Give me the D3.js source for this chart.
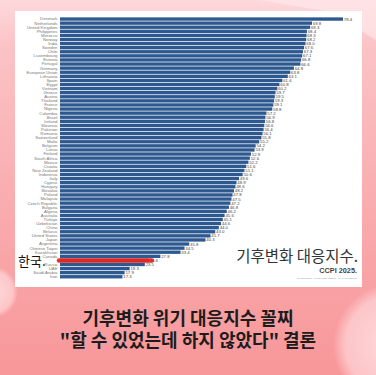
<!DOCTYPE html>
<html><head><meta charset="utf-8">
<script src="https://cdn.jsdelivr.net/npm/d3@7"></script>
<style>html,body{margin:0;padding:0;background:#fff;}svg{display:block;}</style>
</head><body>
<script>
const countries = ["Denmark","Netherlands","United Kingdom","Philippines","Morocco","Norway","India","Sweden","Chile","Luxembourg","Estonia","Portugal","Germany","European Union","Lithuania","Spain","Egypt","Vietnam","Greece","Austria","Thailand","France","Nigeria","Colombia","Brazil","Ireland","Slovenia","Pakistan","Romania","Switzerland","Malta","Belgium","Latvia","Finland","South Africa","Mexico","Croatia","New Zealand","Indonesia","Italy","Cyprus","Hungary","Slovakia","Poland","Malaysia","Czech Republic","Bulgaria","Algeria","Australia","Türkiye","Uzbekistan","China","Belarus","United States","Japan","Argentina","Chinese Taipei","Kazakhstan","Canada","Korea","Russia","UAE","Saudi Arabia","Iran"];
const scores = [78.4,69.8,69.3,68.4,68.3,68.2,68.0,67.6,67.3,67.1,66.8,66.6,64.8,63.8,63.1,61.6,60.8,60.2,59.7,59.5,59.3,59.1,58.8,57.2,56.9,56.8,56.6,56.4,56.1,55.8,55.2,54.2,53.9,52.9,52.6,52.2,51.6,51.1,50.6,49.6,48.9,48.6,48.2,47.8,47.5,47.2,46.8,46.2,45.6,45.1,44.6,44.0,43.0,41.7,40.3,35.8,34.5,33.4,27.8,24.6,23.5,19.3,17.9,17.3];
const highlight = "Korea";
const highlightLabel = "한국.";
const chartTitle = "기후변화 대응지수.";
const chartSub = "CCPI 2025.";
const chartSource = "Germanwatch · NewClimate Institute · CAN International";
const headline = ["기후변화 위기 대응지수 꼴찌", "\"할 수 있었는데 하지 않았다\" 결론"];

const W = 376, H = 375;
const svg = d3.select("body").append("svg").attr("width", W).attr("height", H);
const defs = svg.append("defs");
const bg = defs.append("linearGradient").attr("id","bg").attr("x1",0).attr("y1",0).attr("x2",0).attr("y2",1);
bg.append("stop").attr("offset",0).attr("stop-color","#fdd9dc");
bg.append("stop").attr("offset",0.12).attr("stop-color","#fbc3c6");
bg.append("stop").attr("offset",0.6).attr("stop-color","#f9a9ac");
bg.append("stop").attr("offset",1).attr("stop-color","#f8979a");
svg.append("rect").attr("width",W).attr("height",H).attr("fill","url(#bg)");
const glow = defs.append("radialGradient").attr("id","glow");
glow.append("stop").attr("offset",0).attr("stop-color","#ffe4e6").attr("stop-opacity",0.9);
glow.append("stop").attr("offset",0.8).attr("stop-color","#ffd6d8").attr("stop-opacity",0.7);
glow.append("stop").attr("offset",1).attr("stop-color","#ffd6d8").attr("stop-opacity",0);
svg.append("circle").attr("cx",395).attr("cy",345).attr("r",62).attr("fill","url(#glow)");
svg.append("circle").attr("cx",-8).attr("cy",292).attr("r",26).attr("fill","url(#glow)");
svg.append("polygon").attr("points","260,0 376,0 376,40 330,12").attr("fill","#ffe7e9").attr("opacity",0.7);

// white panel
svg.append("rect").attr("x",15).attr("y",11).attr("width",347).attr("height",276).attr("fill","#ffffff");

const x = d3.scaleLinear().domain([0,80]).range([60,348.8]);
const y = d3.scaleBand().domain(countries).range([17,278.8]).paddingInner(0.18).paddingOuter(0.09);
const data = countries.map((c,i)=>({c, v:scores[i]}));

const g = svg.append("g");
g.selectAll("rect.bar").data(data).join("rect").attr("class","bar")
  .attr("x",x(0)).attr("y",d=>y(d.c)).attr("width",d=>x(d.v)-x(0)).attr("height",y.bandwidth())
  .attr("fill","#2d5990");

g.selectAll("text.val").data(data).join("text").attr("class","val")
  .attr("x",d=>x(d.v)+0.8).attr("y",d=>y(d.c)+y.bandwidth()/2).attr("dy","0.35em")
  .attr("font-family","Liberation Sans, Arial, sans-serif").attr("font-size",4.3).attr("fill","#444")
  .text(d=>d.v.toFixed(1));

const yAxis = d3.axisLeft(y).tickSize(0).tickPadding(2.5);
const ya = g.append("g").attr("transform",`translate(${x(0)},0)`).call(yAxis);
ya.select(".domain").remove();
ya.selectAll("text").attr("font-family","Liberation Sans, Arial, sans-serif").attr("font-size",4.3).attr("fill","#777")
  .text(d=>d===highlight?"":d);

// highlight
const hy = y(highlight)+y.bandwidth()/2;
const hv = scores[countries.indexOf(highlight)];
svg.append("line").attr("x1",x(0)-1).attr("x2",x(hv)+3).attr("y1",hy).attr("y2",hy)
  .attr("stroke","#e8261f").attr("stroke-width",4.5).attr("stroke-linecap","round").attr("opacity",0.95);
svg.append("text").attr("x",18).attr("y",hy+5.5).attr("font-family","Noto Sans CJK KR, sans-serif")
  .attr("font-size",13).attr("fill","#111").text(highlightLabel);

// titles in chart
svg.append("text").attr("x",358).attr("y",262).attr("text-anchor","end").attr("font-family","Noto Sans CJK KR, sans-serif")
  .attr("font-size",15.5).attr("fill","#333").text(chartTitle);
svg.append("text").attr("x",357).attr("y",273).attr("text-anchor","end").attr("font-family","Liberation Sans, Arial, sans-serif")
  .attr("font-size",7.3).attr("font-weight","bold").attr("fill","#444").text(chartSub);
svg.append("text").attr("x",357).attr("y",278.5).attr("text-anchor","end").attr("font-family","Liberation Sans, Arial, sans-serif")
  .attr("font-size",2.4).attr("fill","#999").text(chartSource);

// headline (one text block, two lines)
const ht = svg.append("text").attr("text-anchor","middle")
  .attr("font-family","Noto Sans CJK KR, sans-serif").attr("font-weight","bold").attr("font-size",18)
  .attr("fill","#1c1c1c");
ht.selectAll("tspan").data(headline).join("tspan")
  .attr("x",188).attr("y",(d,i)=>325+i*21.5).text(d=>d);
</script>
</body></html>
